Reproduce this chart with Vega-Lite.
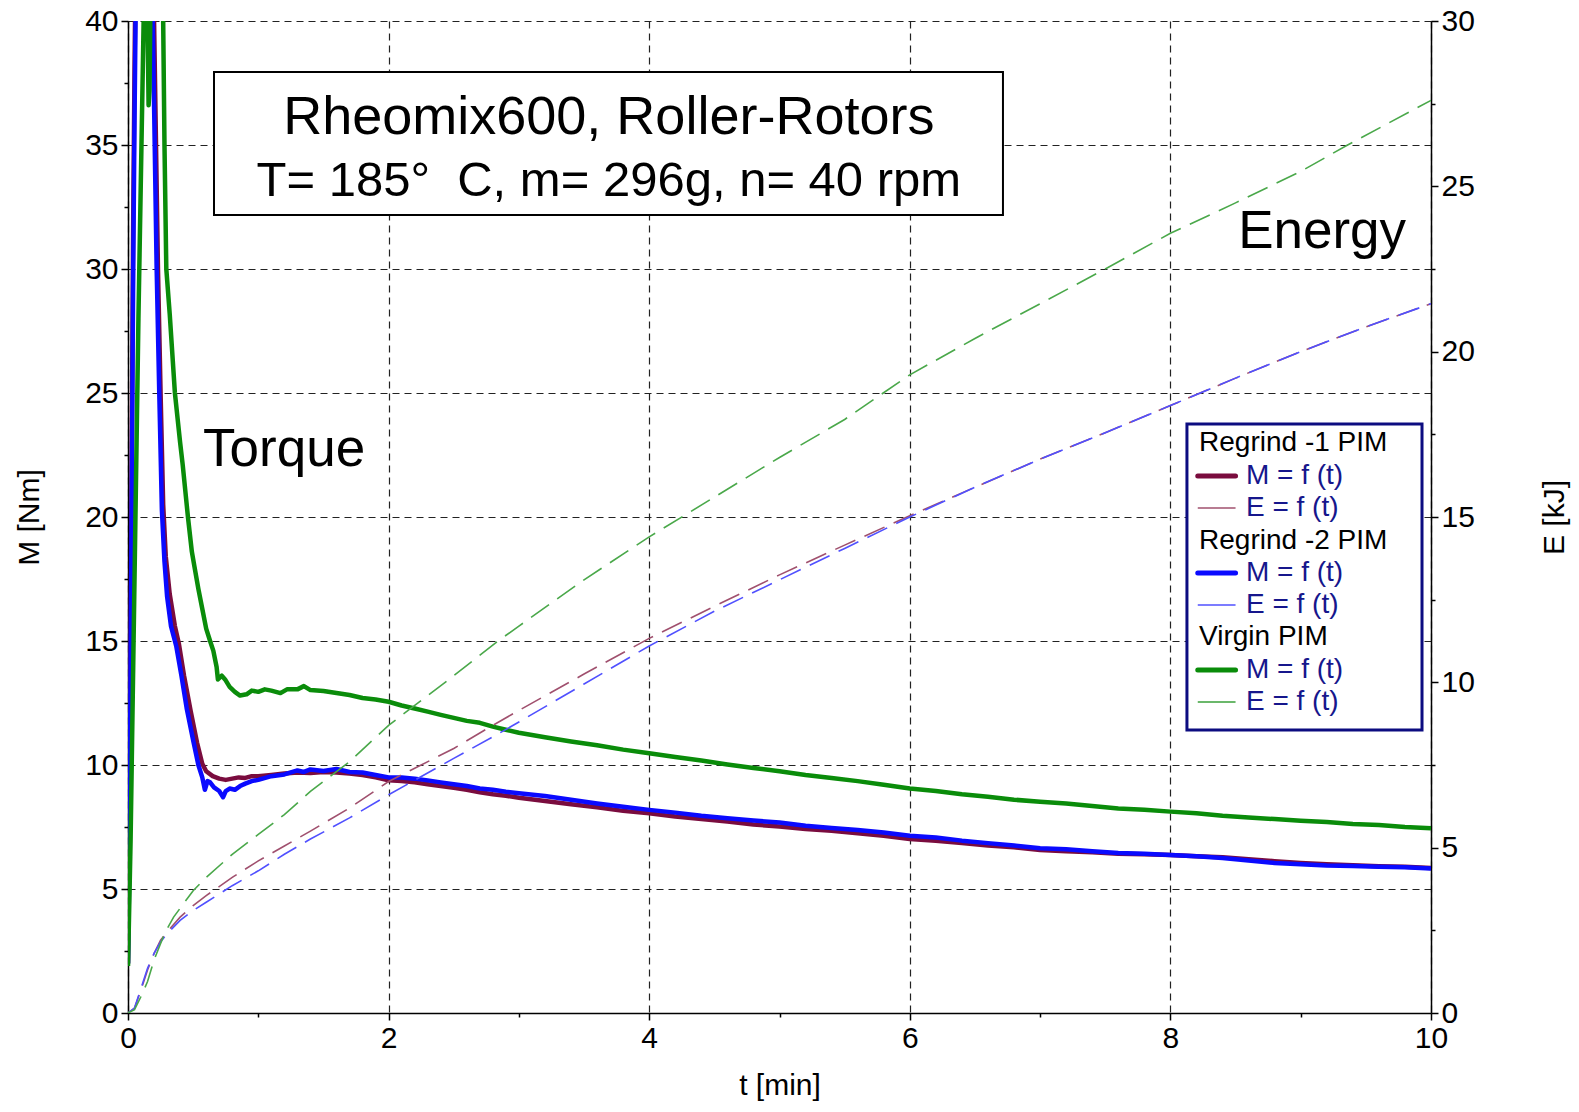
{
  "$schema": "https://vega.github.io/schema/vega-lite/v6.json",
  "autosize": "none",
  "width": 1303,
  "height": 992,
  "padding": {"left": 128, "top": 21, "right": 148, "bottom": 99},
  "background": "white",
  "config": {
    "view": {"stroke": null},
    "font": "Liberation Sans",
    "axis": {
      "labelFont": "Liberation Sans",
      "labelFontSize": 30,
      "labelColor": "#000",
      "titleFont": "Liberation Sans",
      "titleFontSize": 30,
      "titleFontWeight": "normal",
      "titleColor": "#000",
      "domainColor": "#000",
      "domainWidth": 1.5,
      "tickColor": "#000",
      "tickWidth": 1.5,
      "gridColor": "#222",
      "gridDash": [7, 5],
      "gridWidth": 1.2,
      "labelOverlap": false,
      "labelFlush": false,
      "labelPadding": 3
    }
  },
  "datasets": {
    "torque": [
      {"s":"R1","t":0,"M":2.0},{"s":"R1","t":0.01,"M":7},{"s":"R1","t":0.02,"M":15},{"s":"R1","t":0.03,"M":24},{"s":"R1","t":0.04,"M":32},{"s":"R1","t":0.05,"M":38},{"s":"R1","t":0.06,"M":43},{"s":"R1","t":0.1,"M":56},{"s":"R1","t":0.16,"M":56},{"s":"R1","t":0.2,"M":40},{"s":"R1","t":0.215,"M":35},{"s":"R1","t":0.23,"M":30},{"s":"R1","t":0.25,"M":25},{"s":"R1","t":0.27,"M":20.5},{"s":"R1","t":0.29,"M":18.4},{"s":"R1","t":0.32,"M":16.9},{"s":"R1","t":0.36,"M":15.6},{"s":"R1","t":0.39,"M":14.9},{"s":"R1","t":0.43,"M":13.6},{"s":"R1","t":0.48,"M":12.2},{"s":"R1","t":0.53,"M":10.9},{"s":"R1","t":0.57,"M":10.05},{"s":"R1","t":0.6,"M":9.75},{"s":"R1","t":0.65,"M":9.55},{"s":"R1","t":0.7,"M":9.45},{"s":"R1","t":0.75,"M":9.4},{"s":"R1","t":0.8,"M":9.45},{"s":"R1","t":0.85,"M":9.5},{"s":"R1","t":0.9,"M":9.48},{"s":"R1","t":0.95,"M":9.55},{"s":"R1","t":1.0,"M":9.55},{"s":"R1","t":1.1,"M":9.6},{"s":"R1","t":1.2,"M":9.66},{"s":"R1","t":1.3,"M":9.7},{"s":"R1","t":1.4,"M":9.68},{"s":"R1","t":1.5,"M":9.72},{"s":"R1","t":1.6,"M":9.7},{"s":"R1","t":1.7,"M":9.66},{"s":"R1","t":1.8,"M":9.6},{"s":"R1","t":1.9,"M":9.5},{"s":"R1","t":2.0,"M":9.38},{"s":"R1","t":2.1,"M":9.35},{"s":"R1","t":2.2,"M":9.3},{"s":"R1","t":2.3,"M":9.22},{"s":"R1","t":2.4,"M":9.15},{"s":"R1","t":2.5,"M":9.08},{"s":"R1","t":2.6,"M":9.0},{"s":"R1","t":2.7,"M":8.9},{"s":"R1","t":2.8,"M":8.82},{"s":"R1","t":2.9,"M":8.76},{"s":"R1","t":3.0,"M":8.68},{"s":"R1","t":3.2,"M":8.55},{"s":"R1","t":3.4,"M":8.42},{"s":"R1","t":3.6,"M":8.3},{"s":"R1","t":3.8,"M":8.15},{"s":"R1","t":4.0,"M":8.05},{"s":"R1","t":4.2,"M":7.92},{"s":"R1","t":4.4,"M":7.82},{"s":"R1","t":4.6,"M":7.72},{"s":"R1","t":4.8,"M":7.6},{"s":"R1","t":5.0,"M":7.52},{"s":"R1","t":5.2,"M":7.42},{"s":"R1","t":5.4,"M":7.35},{"s":"R1","t":5.6,"M":7.25},{"s":"R1","t":5.8,"M":7.15},{"s":"R1","t":6.0,"M":7.02},{"s":"R1","t":6.2,"M":6.95},{"s":"R1","t":6.4,"M":6.85},{"s":"R1","t":6.6,"M":6.75},{"s":"R1","t":6.8,"M":6.68},{"s":"R1","t":7.0,"M":6.57},{"s":"R1","t":7.2,"M":6.52},{"s":"R1","t":7.4,"M":6.48},{"s":"R1","t":7.6,"M":6.42},{"s":"R1","t":7.8,"M":6.4},{"s":"R1","t":8.0,"M":6.37},{"s":"R1","t":8.2,"M":6.32},{"s":"R1","t":8.4,"M":6.28},{"s":"R1","t":8.6,"M":6.2},{"s":"R1","t":8.8,"M":6.12},{"s":"R1","t":9.0,"M":6.05},{"s":"R1","t":9.2,"M":6.0},{"s":"R1","t":9.4,"M":5.96},{"s":"R1","t":9.6,"M":5.92},{"s":"R1","t":9.8,"M":5.9},{"s":"R1","t":10.0,"M":5.85},
      {"s":"R2","t":0,"M":2.0},{"s":"R2","t":0.01,"M":6},{"s":"R2","t":0.02,"M":14},{"s":"R2","t":0.03,"M":22},{"s":"R2","t":0.04,"M":30},{"s":"R2","t":0.05,"M":36},{"s":"R2","t":0.06,"M":41},{"s":"R2","t":0.1,"M":55},{"s":"R2","t":0.15,"M":55},{"s":"R2","t":0.19,"M":40},{"s":"R2","t":0.205,"M":35},{"s":"R2","t":0.22,"M":30},{"s":"R2","t":0.24,"M":25},{"s":"R2","t":0.26,"M":20.3},{"s":"R2","t":0.28,"M":18.2},{"s":"R2","t":0.3,"M":16.8},{"s":"R2","t":0.33,"M":15.6},{"s":"R2","t":0.37,"M":14.8},{"s":"R2","t":0.41,"M":13.6},{"s":"R2","t":0.45,"M":12.3},{"s":"R2","t":0.5,"M":11.0},{"s":"R2","t":0.54,"M":10.0},{"s":"R2","t":0.57,"M":9.5},{"s":"R2","t":0.59,"M":9.0},{"s":"R2","t":0.61,"M":9.35},{"s":"R2","t":0.63,"M":9.3},{"s":"R2","t":0.66,"M":9.1},{"s":"R2","t":0.7,"M":8.95},{"s":"R2","t":0.73,"M":8.7},{"s":"R2","t":0.75,"M":8.95},{"s":"R2","t":0.78,"M":9.05},{"s":"R2","t":0.82,"M":9.0},{"s":"R2","t":0.86,"M":9.15},{"s":"R2","t":0.9,"M":9.25},{"s":"R2","t":0.95,"M":9.35},{"s":"R2","t":1.0,"M":9.4},{"s":"R2","t":1.1,"M":9.55},{"s":"R2","t":1.2,"M":9.62},{"s":"R2","t":1.3,"M":9.78},{"s":"R2","t":1.35,"M":9.72},{"s":"R2","t":1.4,"M":9.82},{"s":"R2","t":1.5,"M":9.76},{"s":"R2","t":1.6,"M":9.84},{"s":"R2","t":1.7,"M":9.72},{"s":"R2","t":1.8,"M":9.7},{"s":"R2","t":1.9,"M":9.6},{"s":"R2","t":2.0,"M":9.5},{"s":"R2","t":2.1,"M":9.5},{"s":"R2","t":2.2,"M":9.45},{"s":"R2","t":2.3,"M":9.38},{"s":"R2","t":2.4,"M":9.3},{"s":"R2","t":2.5,"M":9.22},{"s":"R2","t":2.6,"M":9.15},{"s":"R2","t":2.7,"M":9.05},{"s":"R2","t":2.8,"M":9.0},{"s":"R2","t":2.9,"M":8.92},{"s":"R2","t":3.0,"M":8.86},{"s":"R2","t":3.2,"M":8.75},{"s":"R2","t":3.4,"M":8.6},{"s":"R2","t":3.6,"M":8.45},{"s":"R2","t":3.8,"M":8.32},{"s":"R2","t":4.0,"M":8.19},{"s":"R2","t":4.2,"M":8.08},{"s":"R2","t":4.4,"M":7.95},{"s":"R2","t":4.6,"M":7.85},{"s":"R2","t":4.8,"M":7.76},{"s":"R2","t":5.0,"M":7.68},{"s":"R2","t":5.2,"M":7.55},{"s":"R2","t":5.4,"M":7.46},{"s":"R2","t":5.6,"M":7.38},{"s":"R2","t":5.8,"M":7.28},{"s":"R2","t":6.0,"M":7.15},{"s":"R2","t":6.2,"M":7.08},{"s":"R2","t":6.4,"M":6.95},{"s":"R2","t":6.6,"M":6.85},{"s":"R2","t":6.8,"M":6.75},{"s":"R2","t":7.0,"M":6.64},{"s":"R2","t":7.2,"M":6.6},{"s":"R2","t":7.4,"M":6.52},{"s":"R2","t":7.6,"M":6.45},{"s":"R2","t":7.8,"M":6.42},{"s":"R2","t":8.0,"M":6.37},{"s":"R2","t":8.2,"M":6.32},{"s":"R2","t":8.4,"M":6.25},{"s":"R2","t":8.6,"M":6.15},{"s":"R2","t":8.8,"M":6.05},{"s":"R2","t":9.0,"M":6.0},{"s":"R2","t":9.2,"M":5.95},{"s":"R2","t":9.4,"M":5.93},{"s":"R2","t":9.6,"M":5.9},{"s":"R2","t":9.8,"M":5.88},{"s":"R2","t":10.0,"M":5.83},
      {"s":"V","t":0,"M":1.9},{"s":"V","t":0.02,"M":7},{"s":"V","t":0.04,"M":14},{"s":"V","t":0.06,"M":21},{"s":"V","t":0.08,"M":28},{"s":"V","t":0.1,"M":34},{"s":"V","t":0.12,"M":40},{"s":"V","t":0.135,"M":45},{"s":"V","t":0.15,"M":40},{"s":"V","t":0.158,"M":36.6},{"s":"V","t":0.165,"M":37.2},{"s":"V","t":0.175,"M":42},{"s":"V","t":0.2,"M":50},{"s":"V","t":0.24,"M":50},{"s":"V","t":0.27,"M":40},{"s":"V","t":0.28,"M":35},{"s":"V","t":0.294,"M":30},{"s":"V","t":0.32,"M":28.2},{"s":"V","t":0.36,"M":25},{"s":"V","t":0.4,"M":23},{"s":"V","t":0.42,"M":22.1},{"s":"V","t":0.46,"M":20},{"s":"V","t":0.49,"M":18.6},{"s":"V","t":0.51,"M":18.0},{"s":"V","t":0.54,"M":17.1},{"s":"V","t":0.57,"M":16.3},{"s":"V","t":0.6,"M":15.5},{"s":"V","t":0.63,"M":15.0},{"s":"V","t":0.655,"M":14.6},{"s":"V","t":0.68,"M":13.95},{"s":"V","t":0.69,"M":13.45},{"s":"V","t":0.72,"M":13.6},{"s":"V","t":0.745,"M":13.45},{"s":"V","t":0.78,"M":13.15},{"s":"V","t":0.82,"M":12.95},{"s":"V","t":0.86,"M":12.8},{"s":"V","t":0.91,"M":12.85},{"s":"V","t":0.95,"M":13.0},{"s":"V","t":1.0,"M":12.95},{"s":"V","t":1.05,"M":13.05},{"s":"V","t":1.1,"M":13.0},{"s":"V","t":1.17,"M":12.9},{"s":"V","t":1.22,"M":13.05},{"s":"V","t":1.3,"M":13.05},{"s":"V","t":1.35,"M":13.18},{"s":"V","t":1.4,"M":13.02},{"s":"V","t":1.5,"M":12.98},{"s":"V","t":1.6,"M":12.9},{"s":"V","t":1.7,"M":12.82},{"s":"V","t":1.8,"M":12.7},{"s":"V","t":1.9,"M":12.64},{"s":"V","t":2.0,"M":12.55},{"s":"V","t":2.1,"M":12.4},{"s":"V","t":2.2,"M":12.28},{"s":"V","t":2.3,"M":12.15},{"s":"V","t":2.4,"M":12.02},{"s":"V","t":2.5,"M":11.9},{"s":"V","t":2.6,"M":11.78},{"s":"V","t":2.7,"M":11.7},{"s":"V","t":2.8,"M":11.55},{"s":"V","t":2.9,"M":11.42},{"s":"V","t":3.0,"M":11.3},{"s":"V","t":3.2,"M":11.12},{"s":"V","t":3.4,"M":10.95},{"s":"V","t":3.6,"M":10.8},{"s":"V","t":3.8,"M":10.62},{"s":"V","t":4.0,"M":10.47},{"s":"V","t":4.2,"M":10.32},{"s":"V","t":4.4,"M":10.18},{"s":"V","t":4.6,"M":10.02},{"s":"V","t":4.8,"M":9.88},{"s":"V","t":5.0,"M":9.75},{"s":"V","t":5.2,"M":9.6},{"s":"V","t":5.4,"M":9.48},{"s":"V","t":5.6,"M":9.35},{"s":"V","t":5.8,"M":9.2},{"s":"V","t":6.0,"M":9.05},{"s":"V","t":6.2,"M":8.95},{"s":"V","t":6.4,"M":8.82},{"s":"V","t":6.6,"M":8.72},{"s":"V","t":6.8,"M":8.6},{"s":"V","t":7.0,"M":8.52},{"s":"V","t":7.2,"M":8.45},{"s":"V","t":7.4,"M":8.35},{"s":"V","t":7.6,"M":8.25},{"s":"V","t":7.8,"M":8.2},{"s":"V","t":8.0,"M":8.12},{"s":"V","t":8.2,"M":8.05},{"s":"V","t":8.4,"M":7.95},{"s":"V","t":8.6,"M":7.88},{"s":"V","t":8.8,"M":7.82},{"s":"V","t":9.0,"M":7.75},{"s":"V","t":9.2,"M":7.7},{"s":"V","t":9.4,"M":7.62},{"s":"V","t":9.6,"M":7.58},{"s":"V","t":9.8,"M":7.5},{"s":"V","t":10.0,"M":7.45}
    ],
    "energy": [
      {"s":"R1","t":0,"E":0},{"s":"R1","t":0.05,"E":0.15},{"s":"R1","t":0.1,"E":0.7},{"s":"R1","t":0.15,"E":1.3},{"s":"R1","t":0.2,"E":1.8},{"s":"R1","t":0.25,"E":2.2},{"s":"R1","t":0.3,"E":2.45},{"s":"R1","t":0.4,"E":2.9},{"s":"R1","t":0.5,"E":3.25},{"s":"R1","t":0.6,"E":3.55},{"s":"R1","t":0.8,"E":4.1},{"s":"R1","t":1.0,"E":4.6},{"s":"R1","t":1.2,"E":5.05},{"s":"R1","t":1.4,"E":5.5},{"s":"R1","t":1.7,"E":6.2},{"s":"R1","t":2.0,"E":7.0},{"s":"R1","t":2.5,"E":8.0},{"s":"R1","t":2.8,"E":8.7},{"s":"R1","t":3.0,"E":9.15},{"s":"R1","t":3.5,"E":10.25},{"s":"R1","t":4.0,"E":11.33},{"s":"R1","t":4.5,"E":12.3},{"s":"R1","t":5.0,"E":13.25},{"s":"R1","t":5.5,"E":14.15},{"s":"R1","t":6.0,"E":15.04},{"s":"R1","t":6.5,"E":15.9},{"s":"R1","t":7.0,"E":16.75},{"s":"R1","t":7.5,"E":17.55},{"s":"R1","t":8.0,"E":18.37},{"s":"R1","t":8.5,"E":19.2},{"s":"R1","t":9.0,"E":20.0},{"s":"R1","t":9.5,"E":20.75},{"s":"R1","t":10.0,"E":21.45},
      {"s":"R2","t":0,"E":0},{"s":"R2","t":0.05,"E":0.15},{"s":"R2","t":0.1,"E":0.75},{"s":"R2","t":0.15,"E":1.35},{"s":"R2","t":0.2,"E":1.8},{"s":"R2","t":0.25,"E":2.15},{"s":"R2","t":0.3,"E":2.4},{"s":"R2","t":0.4,"E":2.8},{"s":"R2","t":0.5,"E":3.1},{"s":"R2","t":0.6,"E":3.35},{"s":"R2","t":0.8,"E":3.85},{"s":"R2","t":1.0,"E":4.3},{"s":"R2","t":1.2,"E":4.8},{"s":"R2","t":1.4,"E":5.26},{"s":"R2","t":1.7,"E":5.9},{"s":"R2","t":2.0,"E":6.6},{"s":"R2","t":2.5,"E":7.7},{"s":"R2","t":2.8,"E":8.35},{"s":"R2","t":3.0,"E":8.8},{"s":"R2","t":3.5,"E":9.95},{"s":"R2","t":4.0,"E":11.1},{"s":"R2","t":4.5,"E":12.15},{"s":"R2","t":5.0,"E":13.1},{"s":"R2","t":5.5,"E":14.05},{"s":"R2","t":6.0,"E":15.0},{"s":"R2","t":6.5,"E":15.9},{"s":"R2","t":7.0,"E":16.75},{"s":"R2","t":7.5,"E":17.55},{"s":"R2","t":8.0,"E":18.37},{"s":"R2","t":8.5,"E":19.2},{"s":"R2","t":9.0,"E":20.0},{"s":"R2","t":9.5,"E":20.75},{"s":"R2","t":10.0,"E":21.45},
      {"s":"V","t":0,"E":0},{"s":"V","t":0.05,"E":0.1},{"s":"V","t":0.1,"E":0.5},{"s":"V","t":0.15,"E":0.95},{"s":"V","t":0.2,"E":1.6},{"s":"V","t":0.28,"E":2.4},{"s":"V","t":0.35,"E":2.9},{"s":"V","t":0.5,"E":3.7},{"s":"V","t":0.6,"E":4.1},{"s":"V","t":0.8,"E":4.8},{"s":"V","t":1.0,"E":5.4},{"s":"V","t":1.2,"E":6.0},{"s":"V","t":1.4,"E":6.7},{"s":"V","t":1.7,"E":7.6},{"s":"V","t":2.0,"E":8.7},{"s":"V","t":2.5,"E":10.2},{"s":"V","t":2.84,"E":11.25},{"s":"V","t":3.0,"E":11.7},{"s":"V","t":3.5,"E":13.1},{"s":"V","t":4.0,"E":14.4},{"s":"V","t":4.5,"E":15.6},{"s":"V","t":5.0,"E":16.8},{"s":"V","t":5.5,"E":17.95},{"s":"V","t":6.0,"E":19.3},{"s":"V","t":6.5,"E":20.4},{"s":"V","t":7.0,"E":21.45},{"s":"V","t":7.5,"E":22.5},{"s":"V","t":8.0,"E":23.58},{"s":"V","t":8.5,"E":24.5},{"s":"V","t":9.0,"E":25.45},{"s":"V","t":9.36,"E":26.25},{"s":"V","t":10.0,"E":27.6}
    ]
  },
  "layer": [
    {
      "layer": [
        {
          "data": {"name": "torque"},
          "mark": {"type": "line", "strokeWidth": 4.5, "clip": true, "strokeJoin": "round"},
          "encoding": {
            "x": {
              "field": "t", "type": "quantitative",
              "scale": {"domain": [0, 10], "nice": false, "zero": false},
              "axis": {
                "title": "t [min]",
                "titlePadding": 17,
                "format": "d",
                "values": [0,1,2,3,4,5,6,7,8,9,10],
                "labelExpr": "datum.value % 2 === 0 ? datum.label : ''",
                "grid": true,
                "gridOpacity": {"condition": {"test": "datum.value % 2 === 0", "value": 1}, "value": 0},
                "tickSize": {"condition": {"test": "datum.value % 2 === 0", "value": 7}, "value": 4}
              }
            },
            "y": {
              "field": "M", "type": "quantitative",
              "scale": {"domain": [0, 40], "nice": false, "zero": true},
              "axis": {
                "title": "M [Nm]",
                "titlePadding": 40,
                "values": [0,2.5,5,7.5,10,12.5,15,17.5,20,22.5,25,27.5,30,32.5,35,37.5,40],
                "labelExpr": "datum.value % 5 === 0 ? datum.label : ''",
                "grid": true,
                "gridOpacity": {"condition": {"test": "datum.value % 5 === 0", "value": 1}, "value": 0},
                "tickSize": {"condition": {"test": "datum.value % 5 === 0", "value": 7}, "value": 4}
              }
            },
            "color": {
              "field": "s", "type": "nominal",
              "scale": {"domain": ["R1", "R2", "V"], "range": ["#7a0c3e", "#0a0aff", "#0a8c0a"]},
              "legend": null
            }
          }
        },
        {
          "data": {"values": [{}]},
          "mark": {"type": "rect", "fill": "white", "stroke": "#000", "strokeWidth": 2},
          "encoding": {
            "x": {"datum": 0.66, "type": "quantitative"},
            "x2": {"datum": 6.715},
            "y": {"datum": 37.94, "type": "quantitative"},
            "y2": {"datum": 32.18}
          }
        },
        {
          "data": {"values": [{}]},
          "mark": {"type": "text", "text": "Rheomix600, Roller-Rotors", "fontSize": 54, "align": "center", "baseline": "middle", "color": "#000"},
          "encoding": {"x": {"datum": 3.69, "type": "quantitative"}, "y": {"datum": 36.1, "type": "quantitative"}}
        },
        {
          "data": {"values": [{}]},
          "mark": {"type": "text", "text": "T= 185°\u00a0\u00a0C, m= 296g, n= 40 rpm", "fontSize": 49, "align": "center", "baseline": "middle", "color": "#000"},
          "encoding": {"x": {"datum": 3.69, "type": "quantitative"}, "y": {"datum": 33.55, "type": "quantitative"}}
        },
        {
          "data": {"values": [{}]},
          "mark": {"type": "text", "text": "Torque", "fontSize": 53, "align": "left", "baseline": "middle", "color": "#000"},
          "encoding": {"x": {"datum": 0.576, "type": "quantitative"}, "y": {"datum": 22.7, "type": "quantitative"}}
        },
        {
          "data": {"values": [{}]},
          "mark": {"type": "text", "text": "Energy", "fontSize": 53, "align": "left", "baseline": "middle", "color": "#000"},
          "encoding": {"x": {"datum": 8.52, "type": "quantitative"}, "y": {"datum": 31.5, "type": "quantitative"}}
        },
        {
          "data": {"values": [{}]},
          "mark": {"type": "rect", "fill": "white", "stroke": "#0c0c80", "strokeWidth": 3},
          "encoding": {
            "x": {"datum": 8.127, "type": "quantitative"},
            "x2": {"datum": 9.931},
            "y": {"datum": 23.75, "type": "quantitative"},
            "y2": {"datum": 11.41}
          }
        },
        {
          "data": {"values": [{}]},
          "mark": {"type": "text", "text": "Regrind -1 PIM", "fontSize": 28, "align": "left", "baseline": "middle", "color": "#000"},
          "encoding": {"x": {"datum": 8.22, "type": "quantitative"}, "y": {"datum": 22.98, "type": "quantitative"}}
        },
        {
          "data": {"values": [{}]},
          "mark": {"type": "text", "text": "Regrind -2 PIM", "fontSize": 28, "align": "left", "baseline": "middle", "color": "#000"},
          "encoding": {"x": {"datum": 8.22, "type": "quantitative"}, "y": {"datum": 19.03, "type": "quantitative"}}
        },
        {
          "data": {"values": [{}]},
          "mark": {"type": "text", "text": "Virgin PIM", "fontSize": 28, "align": "left", "baseline": "middle", "color": "#000"},
          "encoding": {"x": {"datum": 8.22, "type": "quantitative"}, "y": {"datum": 15.16, "type": "quantitative"}}
        },
        {
          "data": {"values": [{}]},
          "mark": {"type": "text", "text": "M = f (t)", "fontSize": 28, "align": "left", "baseline": "middle", "color": "#16168c"},
          "encoding": {"x": {"datum": 8.58, "type": "quantitative"}, "y": {"datum": 21.65, "type": "quantitative"}}
        },
        {
          "data": {"values": [{}]},
          "mark": {"type": "text", "text": "E = f (t)", "fontSize": 28, "align": "left", "baseline": "middle", "color": "#16168c"},
          "encoding": {"x": {"datum": 8.58, "type": "quantitative"}, "y": {"datum": 20.36, "type": "quantitative"}}
        },
        {
          "data": {"values": [{}]},
          "mark": {"type": "text", "text": "M = f (t)", "fontSize": 28, "align": "left", "baseline": "middle", "color": "#16168c"},
          "encoding": {"x": {"datum": 8.58, "type": "quantitative"}, "y": {"datum": 17.74, "type": "quantitative"}}
        },
        {
          "data": {"values": [{}]},
          "mark": {"type": "text", "text": "E = f (t)", "fontSize": 28, "align": "left", "baseline": "middle", "color": "#16168c"},
          "encoding": {"x": {"datum": 8.58, "type": "quantitative"}, "y": {"datum": 16.45, "type": "quantitative"}}
        },
        {
          "data": {"values": [{}]},
          "mark": {"type": "text", "text": "M = f (t)", "fontSize": 28, "align": "left", "baseline": "middle", "color": "#16168c"},
          "encoding": {"x": {"datum": 8.58, "type": "quantitative"}, "y": {"datum": 13.83, "type": "quantitative"}}
        },
        {
          "data": {"values": [{}]},
          "mark": {"type": "text", "text": "E = f (t)", "fontSize": 28, "align": "left", "baseline": "middle", "color": "#16168c"},
          "encoding": {"x": {"datum": 8.58, "type": "quantitative"}, "y": {"datum": 12.54, "type": "quantitative"}}
        },
        {
          "data": {"values": [{}]},
          "mark": {"type": "rule", "color": "#7a0c3e", "strokeWidth": 5, "strokeCap": "round"},
          "encoding": {"x": {"datum": 8.21, "type": "quantitative"}, "x2": {"datum": 8.5}, "y": {"datum": 21.65, "type": "quantitative"}}
        },
        {
          "data": {"values": [{}]},
          "mark": {"type": "rule", "color": "#a0506e", "strokeWidth": 1.5},
          "encoding": {"x": {"datum": 8.21, "type": "quantitative"}, "x2": {"datum": 8.5}, "y": {"datum": 20.36, "type": "quantitative"}}
        },
        {
          "data": {"values": [{}]},
          "mark": {"type": "rule", "color": "#0a0aff", "strokeWidth": 5, "strokeCap": "round"},
          "encoding": {"x": {"datum": 8.21, "type": "quantitative"}, "x2": {"datum": 8.5}, "y": {"datum": 17.74, "type": "quantitative"}}
        },
        {
          "data": {"values": [{}]},
          "mark": {"type": "rule", "color": "#5050ff", "strokeWidth": 1.5},
          "encoding": {"x": {"datum": 8.21, "type": "quantitative"}, "x2": {"datum": 8.5}, "y": {"datum": 16.45, "type": "quantitative"}}
        },
        {
          "data": {"values": [{}]},
          "mark": {"type": "rule", "color": "#0a8c0a", "strokeWidth": 5, "strokeCap": "round"},
          "encoding": {"x": {"datum": 8.21, "type": "quantitative"}, "x2": {"datum": 8.5}, "y": {"datum": 13.83, "type": "quantitative"}}
        },
        {
          "data": {"values": [{}]},
          "mark": {"type": "rule", "color": "#3aa03a", "strokeWidth": 1.5},
          "encoding": {"x": {"datum": 8.21, "type": "quantitative"}, "x2": {"datum": 8.5}, "y": {"datum": 12.54, "type": "quantitative"}}
        }
      ]
    },
    {
      "data": {"name": "energy"},
      "mark": {"type": "line", "strokeWidth": 1.6, "strokeDash": [22, 10], "clip": true},
      "encoding": {
        "x": {"field": "t", "type": "quantitative"},
        "y": {
          "field": "E", "type": "quantitative",
          "scale": {"domain": [0, 30], "nice": false, "zero": true},
          "axis": {
            "orient": "right",
            "title": "E [kJ]",
            "titleAngle": -90,
            "titlePadding": 95,
            "values": [0,2.5,5,7.5,10,12.5,15,17.5,20,22.5,25,27.5,30],
            "labelExpr": "datum.value % 5 === 0 ? datum.label : ''",
            "grid": false,
            "tickSize": {"condition": {"test": "datum.value % 5 === 0", "value": 7}, "value": 4}
          }
        },
        "color": {
          "field": "s", "type": "nominal",
          "scale": {"domain": ["R1", "R2", "V"], "range": ["#a0506e", "#5050ff", "#4aa84a"]},
          "legend": null
        }
      }
    }
  ],
  "resolve": {"scale": {"y": "independent", "color": "independent"}}
}
